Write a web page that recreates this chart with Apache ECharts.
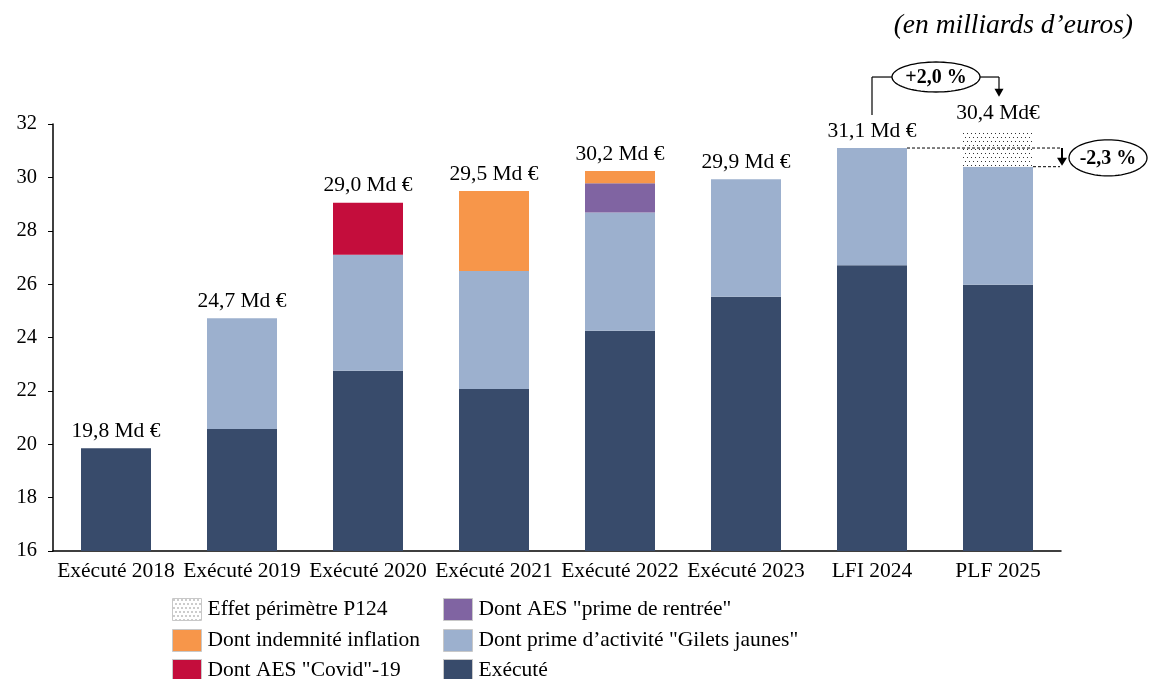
<!DOCTYPE html>
<html><head><meta charset="utf-8">
<script src="https://cdn.jsdelivr.net/npm/echarts/dist/echarts.min.js"></script>
<style>html,body{margin:0;padding:0;background:#fff}#c{width:1150px;height:679px}</style>
</head><body><div id="c"></div>
<script>
const categories = ['Exécuté 2018','Exécuté 2019','Exécuté 2020','Exécuté 2021','Exécuté 2022','Exécuté 2023','LFI 2024','PLF 2025'];
const execute   = [19.85, 20.57, 22.75, 22.07, 24.25, 25.53, 26.71, 25.98];
const primeGJ   = [0, 4.15, 4.35, 4.42, 4.43, 4.40, 4.39, 4.42];
const aesCovid  = [0, 0, 1.95, 0, 0, 0, 0, 0];
const aesRentree= [0, 0, 0, 0, 1.10, 0, 0, 0];
const inflation = [0, 0, 0, 3.00, 0.46, 0, 0, 0];
const perimetre = [0, 0, 0, 0, 0, 0, 0, 1.35];
const totalLabels = ['19,8 Md €','24,7 Md €','29,0 Md €','29,5 Md €','30,2 Md €','29,9 Md €','31,1 Md €','30,4 Md€'];
const yTicks = {min:16, max:32, interval:2};
const evolLabels = ['+2,0 %','-2,3 %'];
const unitTitle = '(en milliards d\u2019euros)';

const FONT = '"Liberation Serif", "DejaVu Serif", serif';

// dotted pattern
const pc = document.createElement('canvas'); pc.width = 4; pc.height = 8;
const pctx = pc.getContext('2d');
pctx.fillStyle = '#fff'; pctx.fillRect(0,0,4,8);
pctx.fillStyle = '#333'; pctx.fillRect(1,1,1,1); pctx.fillRect(3,5,1,1);
const dotted = {image: pc, repeat: 'repeat'};

const names = {
  exe: 'Exécuté',
  gj: 'Dont prime d\u2019activité "Gilets jaunes"',
  cov: 'Dont AES "Covid"-19',
  inf: 'Dont indemnité inflation',
  ren: 'Dont AES "prime de rentrée"',
  per: 'Effet périmètre P124'
};
const BW = 70;
function bar(name, data, color, extra) {
  return Object.assign({
    name, type: 'bar', stack: 'a', barWidth: BW, data,
    itemStyle: {color, borderWidth: 0},
    emphasis: {disabled: true}
  }, extra || {});
}
const chart = echarts.init(document.getElementById('c'), null, {renderer: 'canvas'});
function legendAt(name, left, top) {
  return {
    data: [name], left, top, padding: 0,
    itemWidth: 29, itemHeight: 22, icon: 'rect',
    itemStyle: {borderColor: '#c8c8c8', borderWidth: 1},
    textStyle: {fontFamily: FONT, fontSize: 21.5, color: '#000', padding: [2,0,0,1]},
    selectedMode: false
  };
}
const rowTops = [598, 629, 659];
chart.setOption({
  animation: false,
  textStyle: {fontFamily: FONT},
  grid: {left: 53, right: 89, top: 124, bottom: 128},
  legend: [
    legendAt(names.per, 172, rowTops[0]),
    legendAt(names.inf, 172, rowTops[1]),
    legendAt(names.cov, 172, rowTops[2]),
    legendAt(names.ren, 443, rowTops[0]),
    legendAt(names.gj, 443, rowTops[1]),
    legendAt(names.exe, 443, rowTops[2])
  ],
  xAxis: {
    type: 'category', data: categories,
    axisLine: {lineStyle: {color: '#000', width: 1.5}},
    axisTick: {show: false},
    axisLabel: {fontFamily: FONT, fontSize: 21.5, color: '#000', margin: 9, interval: 0}
  },
  yAxis: {
    type: 'value', min: yTicks.min, max: yTicks.max, interval: yTicks.interval,
    axisLine: {show: true, lineStyle: {color: '#000', width: 1.5}},
    axisTick: {show: true, length: 5, lineStyle: {color: '#000'}},
    splitLine: {show: false},
    axisLabel: {fontFamily: FONT, fontSize: 20.5, color: '#000', margin: 16}
  },
  series: [
    bar(names.exe, execute, '#384B6B'),
    bar(names.gj, primeGJ, '#9CB0CE'),
    bar(names.cov, aesCovid, '#C40D3C'),
    bar(names.ren, aesRentree, '#8064A2'),
    bar(names.inf, inflation, '#F7964A'),
    bar(names.per, perimetre, dotted),
    bar('total', categories.map(() => 0), 'rgba(0,0,0,0)', {
      label: {show: true, position: 'top', distance: 6, fontFamily: FONT, fontSize: 21.5, color: '#000',
        formatter: p => totalLabels[p.dataIndex]}
    })
  ]
});

// annotations positioned through the chart's own scales
function px(cat, val) { return chart.convertToPixel({xAxisIndex: 0, yAxisIndex: 0}, [cat, val]); }
const iL = 6, iP = 7;
const topL = execute[iL] + primeGJ[iL];
const topP = execute[iP] + primeGJ[iP];
const topPall = topP + perimetre[iP];
const pL = px(categories[iL], topL);
const pP = px(categories[iP], topP);
const pPall = px(categories[iP], topPall);
const half = BW / 2;
const rightEnd = pP[0] + 62;

function ellipsePts(cx, cy, rx, ry) {
  const pts = [];
  for (let k = 0; k < 72; k++) { const a = k / 72 * Math.PI * 2; pts.push([cx + rx * Math.cos(a), cy + ry * Math.sin(a)]); }
  return pts;
}
const line = (x1,y1,x2,y2,dash,w) => ({type:'line', shape:{x1,y1,x2,y2}, style:{stroke:'#000', lineWidth:w||1.2, lineDash: dash||null}, silent:true, z:100});
const els = [];
// +2,0% bracket
const bY = pL[1] - 71;
const ecx = (pL[0] + pP[0]) / 2 + 1, erx = 44, ery = 15;
els.push(line(pL[0], pL[1] - 33, pL[0], bY));
els.push(line(pL[0], bY, ecx - erx, bY));
els.push(line(ecx + erx, bY, pP[0] + 1, bY));
const tipY = pPall[1] - 34;
els.push(line(pP[0] + 1, bY, pP[0] + 1, tipY - 7));
els.push({type:'polygon', shape:{points:[[pP[0]-3.5, tipY-8],[pP[0]+5.5, tipY-8],[pP[0]+1, tipY]]}, style:{fill:'#000'}, z:100});
els.push({type:'polygon', shape:{points: ellipsePts(ecx, bY, erx, ery)}, style:{fill:'#fff', stroke:'#000', lineWidth:1.3}, z:100});
els.push({type:'text', x: ecx, y: bY + 1, style:{text: evolLabels[0], font: 'bold 20px ' + FONT, fill:'#000', align:'center', verticalAlign:'middle'}, z:101});
// -2,3% dashed guides
els.push(line(pL[0] + half, pL[1], rightEnd, pL[1], [3,2], 1));
els.push(line(pP[0] + half, pP[1], rightEnd, pP[1], [3,2], 1));
const ax = rightEnd + 2;
els.push({type:'line', shape:{x1:ax, y1:pL[1], x2:ax, y2:pP[1]-7}, style:{stroke:'#000', lineWidth:2}, z:100});
els.push({type:'polygon', shape:{points:[[ax-5, pP[1]-9],[ax+5, pP[1]-9],[ax, pP[1]-1]]}, style:{fill:'#000'}, z:100});
const e2x = ax + 46, e2y = (pL[1] + pP[1]) / 2 + 0.5;
els.push({type:'polygon', shape:{points: ellipsePts(e2x, e2y, 39, 18)}, style:{fill:'#fff', stroke:'#000', lineWidth:1.3}, z:100});
els.push({type:'text', x: e2x, y: e2y + 1, style:{text: evolLabels[1], font: 'bold 20px ' + FONT, fill:'#000', align:'center', verticalAlign:'middle'}, z:101});
// unit title
els.push({type:'text', right: 17, top: 12, style:{text: unitTitle, font: 'italic 27.5px ' + FONT, fill:'#000'}, z:101});
chart.setOption({graphic: {elements: els}});
</script>
</body></html>
